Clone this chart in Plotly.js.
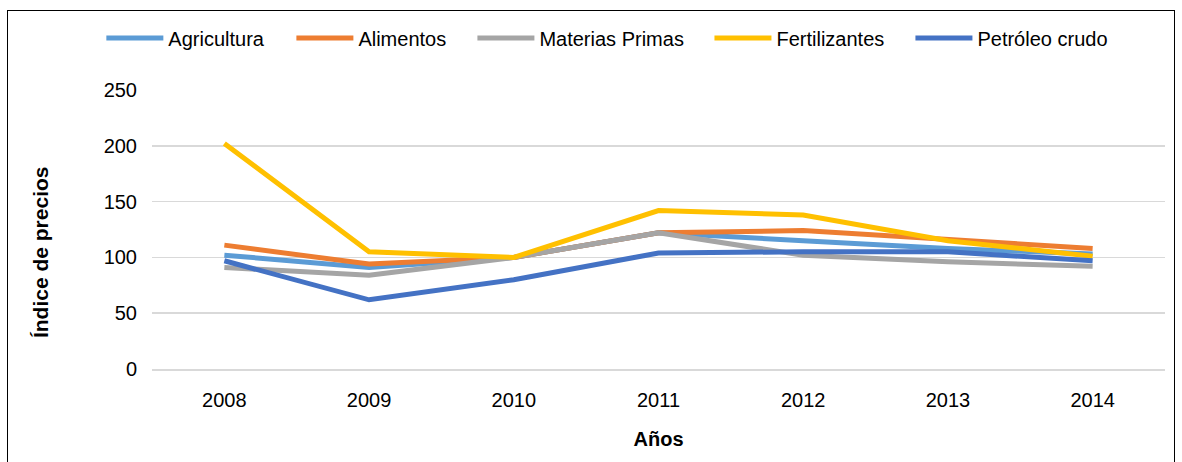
<!DOCTYPE html>
<html>
<head>
<meta charset="utf-8">
<script src="https://cdn.plot.ly/plotly-3.0.1.min.js"></script>
<style>
html,body{margin:0;padding:0;background:#fff;}
#wrap{position:relative;width:1182px;height:462px;overflow:hidden;}
#chart{width:1182px;height:462px;}
#frame{position:absolute;left:7px;top:10px;width:1168px;height:470px;border:1.5px solid #000;pointer-events:none;box-sizing:border-box;}
</style>
</head>
<body>
<div id="wrap"><div id="chart"></div><div id="frame"></div></div>
<script>
const years = ['2008','2009','2010','2011','2012','2013','2014'];
const agricultura = [102, 91, 100, 122, 115, 108, 103];
const alimentos = [111, 94, 100, 122, 124, 116, 108];
const materiasPrimas = [91, 84, 100, 122, 102, 96, 92];
const fertilizantes = [202, 105, 100, 142, 138, 115, 101];
const petroleo = [97, 62, 80, 104, 105, 105, 97];
const seriesNames = ['Agricultura', 'Alimentos', 'Materias Primas', 'Fertilizantes', 'Petróleo crudo'];
const seriesColors = ['#5B9BD5', '#ED7D31', '#A5A5A5', '#FFC000', '#4472C4'];
const allSeries = [agricultura, alimentos, materiasPrimas, fertilizantes, petroleo];
const yTitle = 'Índice de precios';
const xTitle = 'Años';

const legendIds = ['legend', 'legend2', 'legend3', 'legend4', 'legend5'];
const traces = allSeries.map((vals, i) => ({
  x: years, y: vals, type: 'scatter', mode: 'lines', name: seriesNames[i],
  legend: legendIds[i],
  line: {color: seriesColors[i], width: 5}
}));

const font = "'Liberation Sans', Arial, sans-serif";
const legendX = [-0.0500, 0.1376, 0.3163, 0.5503, 0.7487];
const layout = {
  width: 1182, height: 462,
  margin: {l: 152, r: 17, t: 90, b: 93},
  paper_bgcolor: '#fff', plot_bgcolor: '#fff',
  font: {family: font, size: 20, color: '#000'},
  showlegend: true,
  xaxis: {type: 'category', range: [-0.5, 6.5], showgrid: false, showline: true, linecolor: '#d9d9d9', linewidth: 1.5,
          ticks: 'outside', ticklen: 12, tickcolor: 'rgba(0,0,0,0)',
          tickfont: {family: font, size: 20},
          title: {text: xTitle, font: {family: font, size: 20, weight: 'bold'}, standoff: 22}},
  yaxis: {range: [0, 250], dtick: 50, showgrid: true, gridcolor: '#d9d9d9', gridwidth: 1.5,
          zeroline: false, showline: false, ticks: 'outside', ticklen: 10, tickcolor: 'rgba(0,0,0,0)',
          tickfont: {family: font, size: 20}},
  annotations: [{text: yTitle, xref: 'paper', yref: 'paper', x: -0.1106, y: 0.419,
                 xanchor: 'center', yanchor: 'middle', textangle: -90, showarrow: false,
                 font: {family: font, size: 21, weight: 'bold', color: '#000'}}]
};
legendIds.forEach((id, i) => {
  layout[id] = {orientation: 'h', x: legendX[i], xanchor: 'left', y: 1.186, yanchor: 'middle',
                font: {family: font, size: 20, color: '#000'}, itemwidth: 57, bgcolor: 'rgba(0,0,0,0)'};
});
Plotly.newPlot('chart', traces, layout, {displayModeBar: false, staticPlot: true});
</script>
</body>
</html>
